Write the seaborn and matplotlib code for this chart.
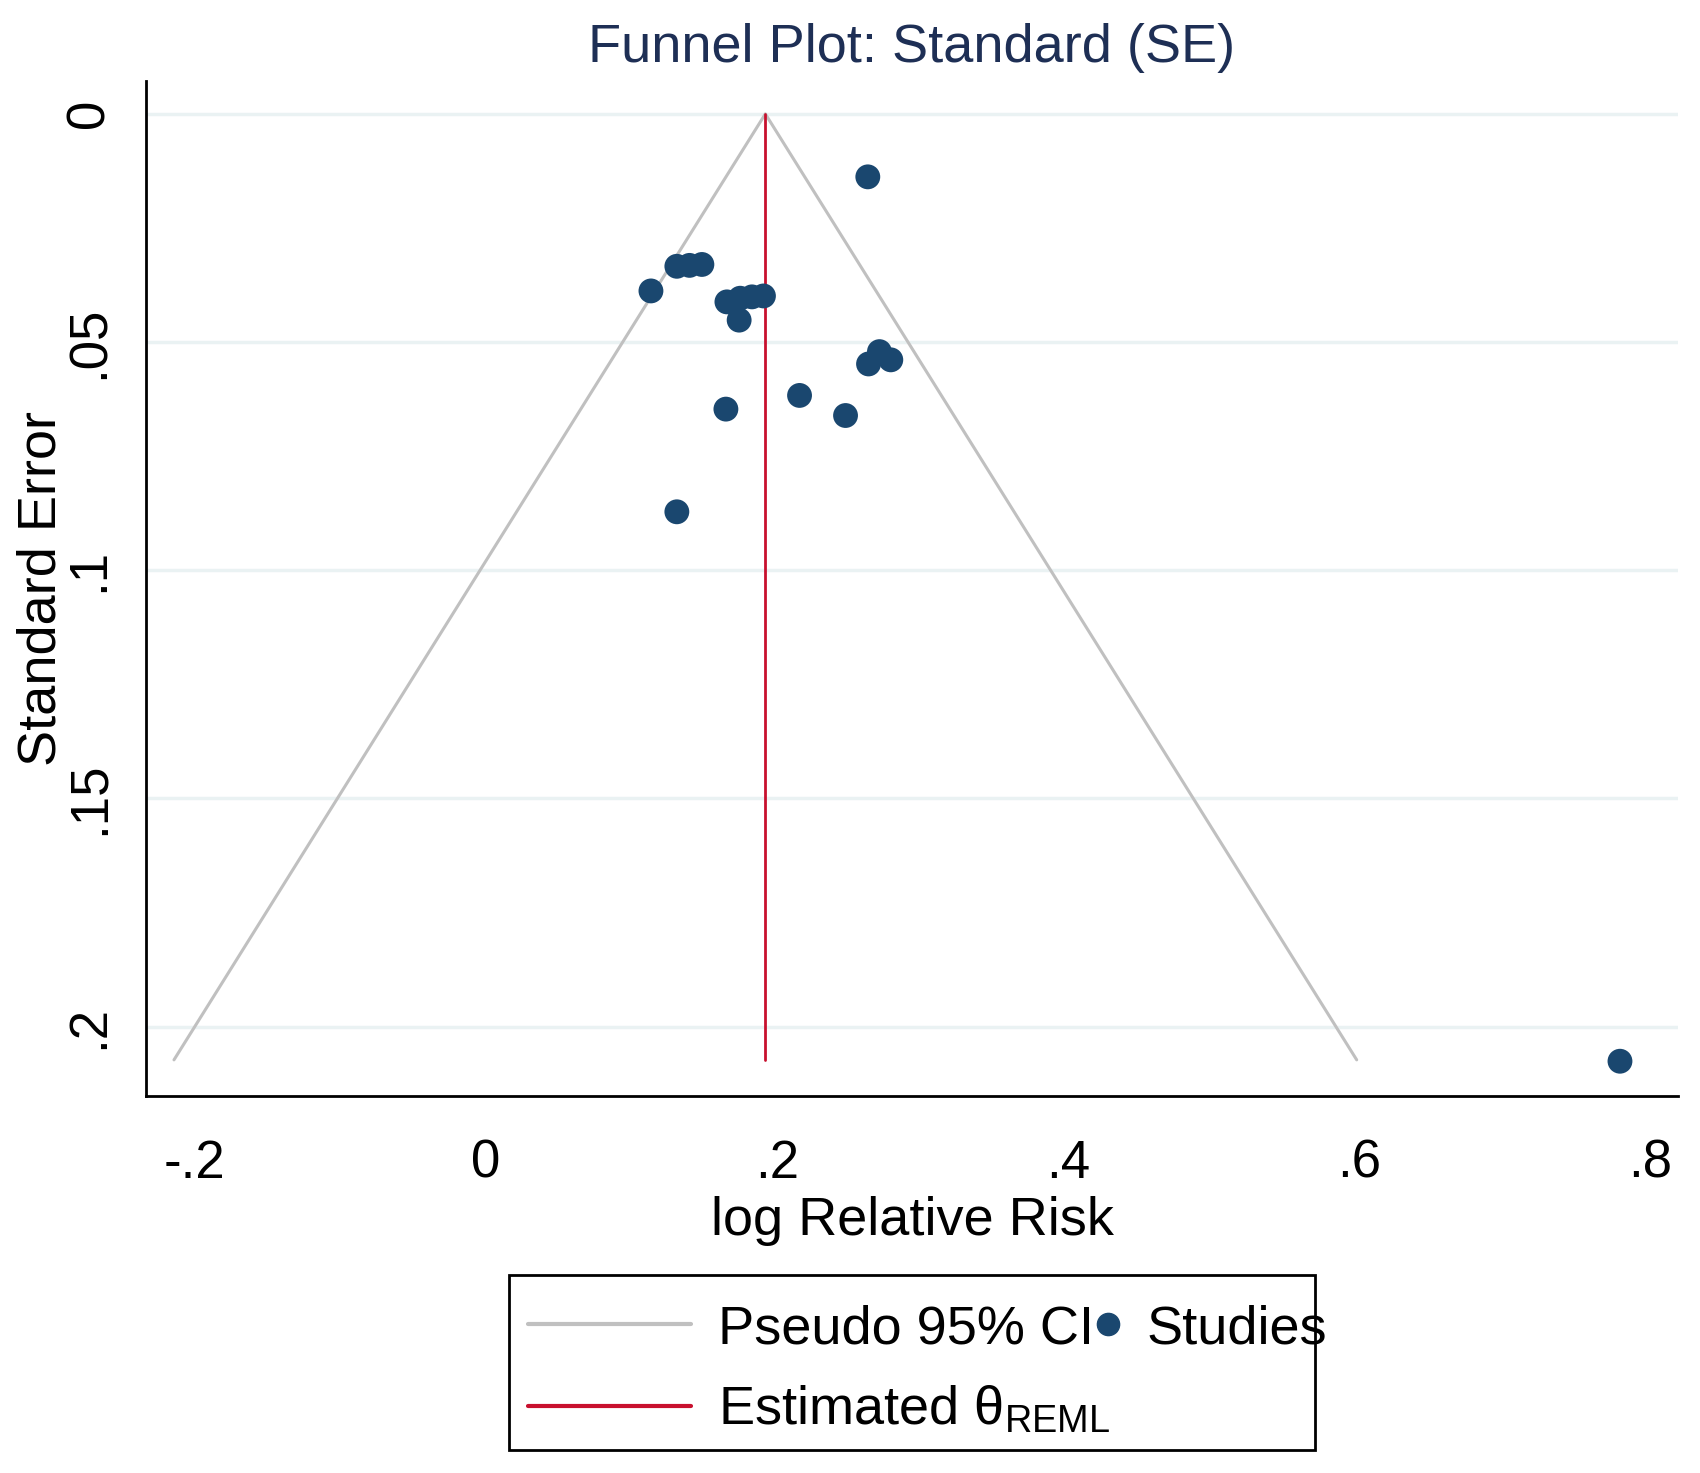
import numpy as np
import pandas as pd
import matplotlib
matplotlib.use("Agg")
import matplotlib.pyplot as plt
import seaborn as sns
from matplotlib.lines import Line2D
from matplotlib.patches import Rectangle

# Study estimates
log_rr = [0.2624, 0.1134, 0.1312, 0.1399, 0.1484, 0.1656, 0.1747, 0.1828,
          0.1907, 0.1740, 0.2704, 0.2629, 0.2782, 0.2155, 0.1649, 0.2471,
          0.1312, 0.7792]
std_err = [0.0138, 0.0388, 0.0334, 0.0332, 0.0330, 0.0412, 0.0404, 0.0401,
           0.0399, 0.0452, 0.0521, 0.0548, 0.0539, 0.0617, 0.0647, 0.0661,
           0.0872, 0.2076]
theta_reml = 0.192
se_max = 0.2073

x_ticks = [-0.2, 0, 0.2, 0.4, 0.6, 0.8]
x_tick_labels = ["-.2", "0", ".2", ".4", ".6", ".8"]
y_ticks = [0, 0.05, 0.1, 0.15, 0.2]
y_tick_labels = ["0", ".05", ".1", ".15", ".2"]

df = pd.DataFrame({"log_rr": log_rr, "se": std_err})

sns.set_style("white")
plt.rcParams["font.family"] = ["Liberation Sans", "DejaVu Sans"]
plt.rcParams["mathtext.fontset"] = "custom"
plt.rcParams["mathtext.rm"] = "Liberation Sans"
for key in ["text.color", "axes.labelcolor", "xtick.color", "ytick.color"]:
    plt.rcParams[key] = "black"

navy = "#1a476f"
red = "#c8102e"
gray = "#c0c0c0"
fs = 39

fig = plt.figure(figsize=(17, 14.73), dpi=100)
ax = fig.add_axes([0.086, 0.256, 0.901, 0.689])

# pseudo 95% CI funnel
ci_x = [theta_reml - 1.96 * se_max, theta_reml, theta_reml + 1.96 * se_max]
ci_y = [se_max, 0, se_max]
ax.plot(ci_x, ci_y, color=gray, lw=2.2, zorder=2)
ax.plot([theta_reml, theta_reml], [0, se_max], color=red, lw=2, zorder=3)

sns.scatterplot(data=df, x="log_rr", y="se", ax=ax, color=navy, s=320,
                edgecolor="none", zorder=4, legend=False)

ax.set_xlim(-0.2334, 0.819)
ax.set_ylim(0.2152, -0.0072)
ax.set_xticks(x_ticks)
ax.set_xticklabels(x_tick_labels, fontsize=38)
ax.set_yticks(y_ticks)
ax.set_yticklabels(y_tick_labels, fontsize=38, rotation=90, va="center")
ax.tick_params(axis="both", length=16, width=1.5, color="black")
ax.tick_params(axis="x", pad=15)
ax.tick_params(axis="y", pad=7)
ax.grid(axis="y", color="#eaf2f3", lw=2.5, zorder=0)
ax.set_axisbelow(True)

for side in ["top", "right"]:
    ax.spines[side].set_visible(False)
for side in ["left", "bottom"]:
    ax.spines[side].set_color("black")
    ax.spines[side].set_linewidth(2)

ax.set_xlabel("log Relative Risk", fontsize=fs)
ax.xaxis.set_label_coords(0.5, -0.099)
ax.set_ylabel("Standard Error", fontsize=fs)
ax.yaxis.set_label_coords(-0.052, 0.5)
ax.set_title("Funnel Plot: Standard (SE)", fontsize=fs, color="#1e2f55", pad=14)

# legend: frame drawn separately so the "Studies" entry can sit tight to column 1
theta_label = r"Estimated θ$_{\mathrm{REML}}$"
fig.patches.append(Rectangle((0.2997, 0.0153), 0.4738, 0.1191,
                             transform=fig.transFigure, fill=False,
                             edgecolor="black", lw=2))
leg_kw = dict(loc="center left", fontsize=fs, frameon=False, borderpad=0,
              borderaxespad=0, labelspacing=0.55)
leg1 = fig.legend([Line2D([0], [0], color=gray, lw=3),
                   Line2D([0], [0], color=red, lw=3)],
                  ["Pseudo 95% CI", theta_label],
                  bbox_to_anchor=(0.3106, 0.070),
                  handlelength=3.0, handletextpad=0.5, **leg_kw)
# second column: one visible entry, a hidden twin row keeps it level with row 1
leg2 = fig.legend([Line2D([0], [0], color=navy, marker="o", ls="none",
                          markersize=16),
                   Line2D([0], [0], color="none")],
                  ["Studies", theta_label], labelcolor=["black", "none"],
                  bbox_to_anchor=(0.639, 0.070),
                  handlelength=0.8, handletextpad=0.32, **leg_kw)

fig.savefig("out.png", dpi=100)
